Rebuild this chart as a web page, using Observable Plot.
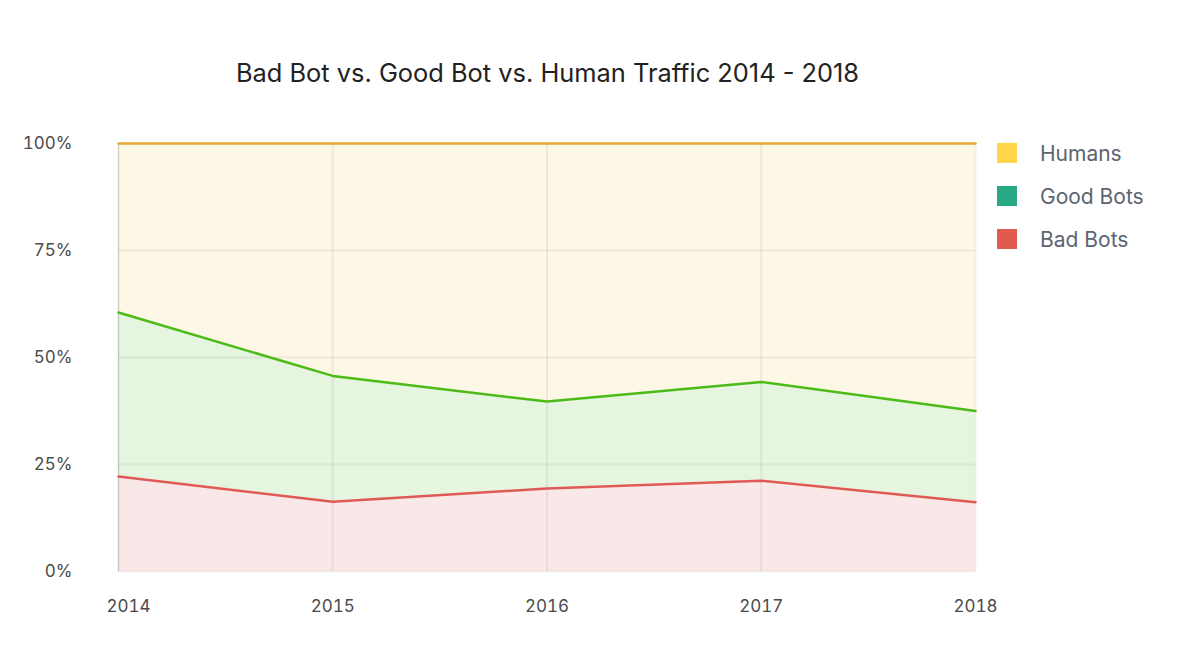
<!DOCTYPE html>
<html>
<head>
<meta charset="utf-8">
<script src="https://cdn.jsdelivr.net/npm/d3@7"></script>
<script src="https://cdn.jsdelivr.net/npm/@observablehq/plot@0.6"></script>
<style>
  html, body { margin: 0; padding: 0; background: #fff; }
  body { width: 1182px; height: 672px; position: relative; font-family: Inter, "Noto Sans", sans-serif; overflow: hidden; }
  #title { height: 110px; line-height: 1; box-sizing: border-box; padding-top: 60px; padding-left: 95px; text-align: center; width: 1000px; font-size: 25.4px; color: #222; }
  #legend { position: absolute; left: 997px; top: 143px; }
  .item { display: flex; align-items: center; height: 20px; margin-bottom: 23px; font-size: 21px; color: #5b6470; }
  .sw { width: 20px; height: 20px; margin-right: 23px; }
</style>
</head>
<body>
<div id="title">Bad Bot vs. Good Bot vs. Human Traffic 2014 - 2018</div>
<div id="chart"></div>
<div id="legend"></div>
<script>
const years = [2014, 2015, 2016, 2017, 2018];
const badBots = [22.2, 16.3, 19.4, 21.2, 16.2];
const goodBots = [38.3, 29.4, 20.3, 23.1, 21.3];
const humans = [39.5, 54.3, 60.3, 55.7, 62.5];
const seriesNames = ["Bad Bots", "Good Bots", "Humans"];
const legendNames = ["Humans", "Good Bots", "Bad Bots"];
const legendColors = ["#ffd54a", "#2aa884", "#e05a52"];
const fillColors = ["#fae8e8", "#e6f5e0", "#fdf7e6"];
const lineColors = ["#e05a55", "#4cbb17", "#e8a838"];
const yTicks = [0, 25, 50, 75, 100];

const seriesValues = [badBots, goodBots, humans];
const data = [];
seriesNames.forEach((name, i) => {
  years.forEach((yr, j) => data.push({ year: yr, type: name, value: seriesValues[i][j] }));
});

const chart = Plot.plot({
  width: 1182,
  height: 562,
  marginLeft: 118,
  marginRight: 207,
  marginTop: 33,
  marginBottom: 101,
  style: { fontFamily: "Inter, 'Noto Sans', sans-serif", fontSize: "17px", color: "#4a4a4a", background: "transparent" },
  x: { type: "linear", domain: [2014, 2018], label: null },
  y: { domain: [0, 100], label: null },
  color: { domain: seriesNames, range: fillColors },
  marks: [
    Plot.areaY(data, { x: "year", y: "value", z: "type", fill: "type", order: seriesNames }),
    Plot.gridY(yTicks, { stroke: "#000", strokeOpacity: 0.06, strokeWidth: 2 }),
    Plot.gridX(years, { stroke: "#000", strokeOpacity: 0.06, strokeWidth: 2 }),
    Plot.ruleX([2014], { stroke: "#000", strokeOpacity: 0.12, strokeWidth: 1 }),
    Plot.lineY(data, Plot.stackY2({ x: "year", y: "value", z: "type", order: seriesNames, stroke: d => lineColors[seriesNames.indexOf(d.type)], strokeWidth: 2.5 })),
    Plot.axisY(yTicks, { tickFormat: d => d + "%", tickSize: 0, tickPadding: 46, label: null }),
    Plot.axisX([2014], { tickFormat: d => String(d), tickSize: 0, tickPadding: 28, dx: 10, label: null }),
    Plot.axisX(years.slice(1), { tickFormat: d => String(d), tickSize: 0, tickPadding: 28, label: null }),
  ]
});
document.getElementById("chart").appendChild(chart);

const legend = document.getElementById("legend");
legendNames.forEach((name, i) => {
  const item = document.createElement("div");
  item.className = "item";
  const sw = document.createElement("div");
  sw.className = "sw";
  sw.style.background = legendColors[i];
  const label = document.createElement("span");
  label.textContent = name;
  item.appendChild(sw);
  item.appendChild(label);
  legend.appendChild(item);
});
</script>
</body>
</html>
